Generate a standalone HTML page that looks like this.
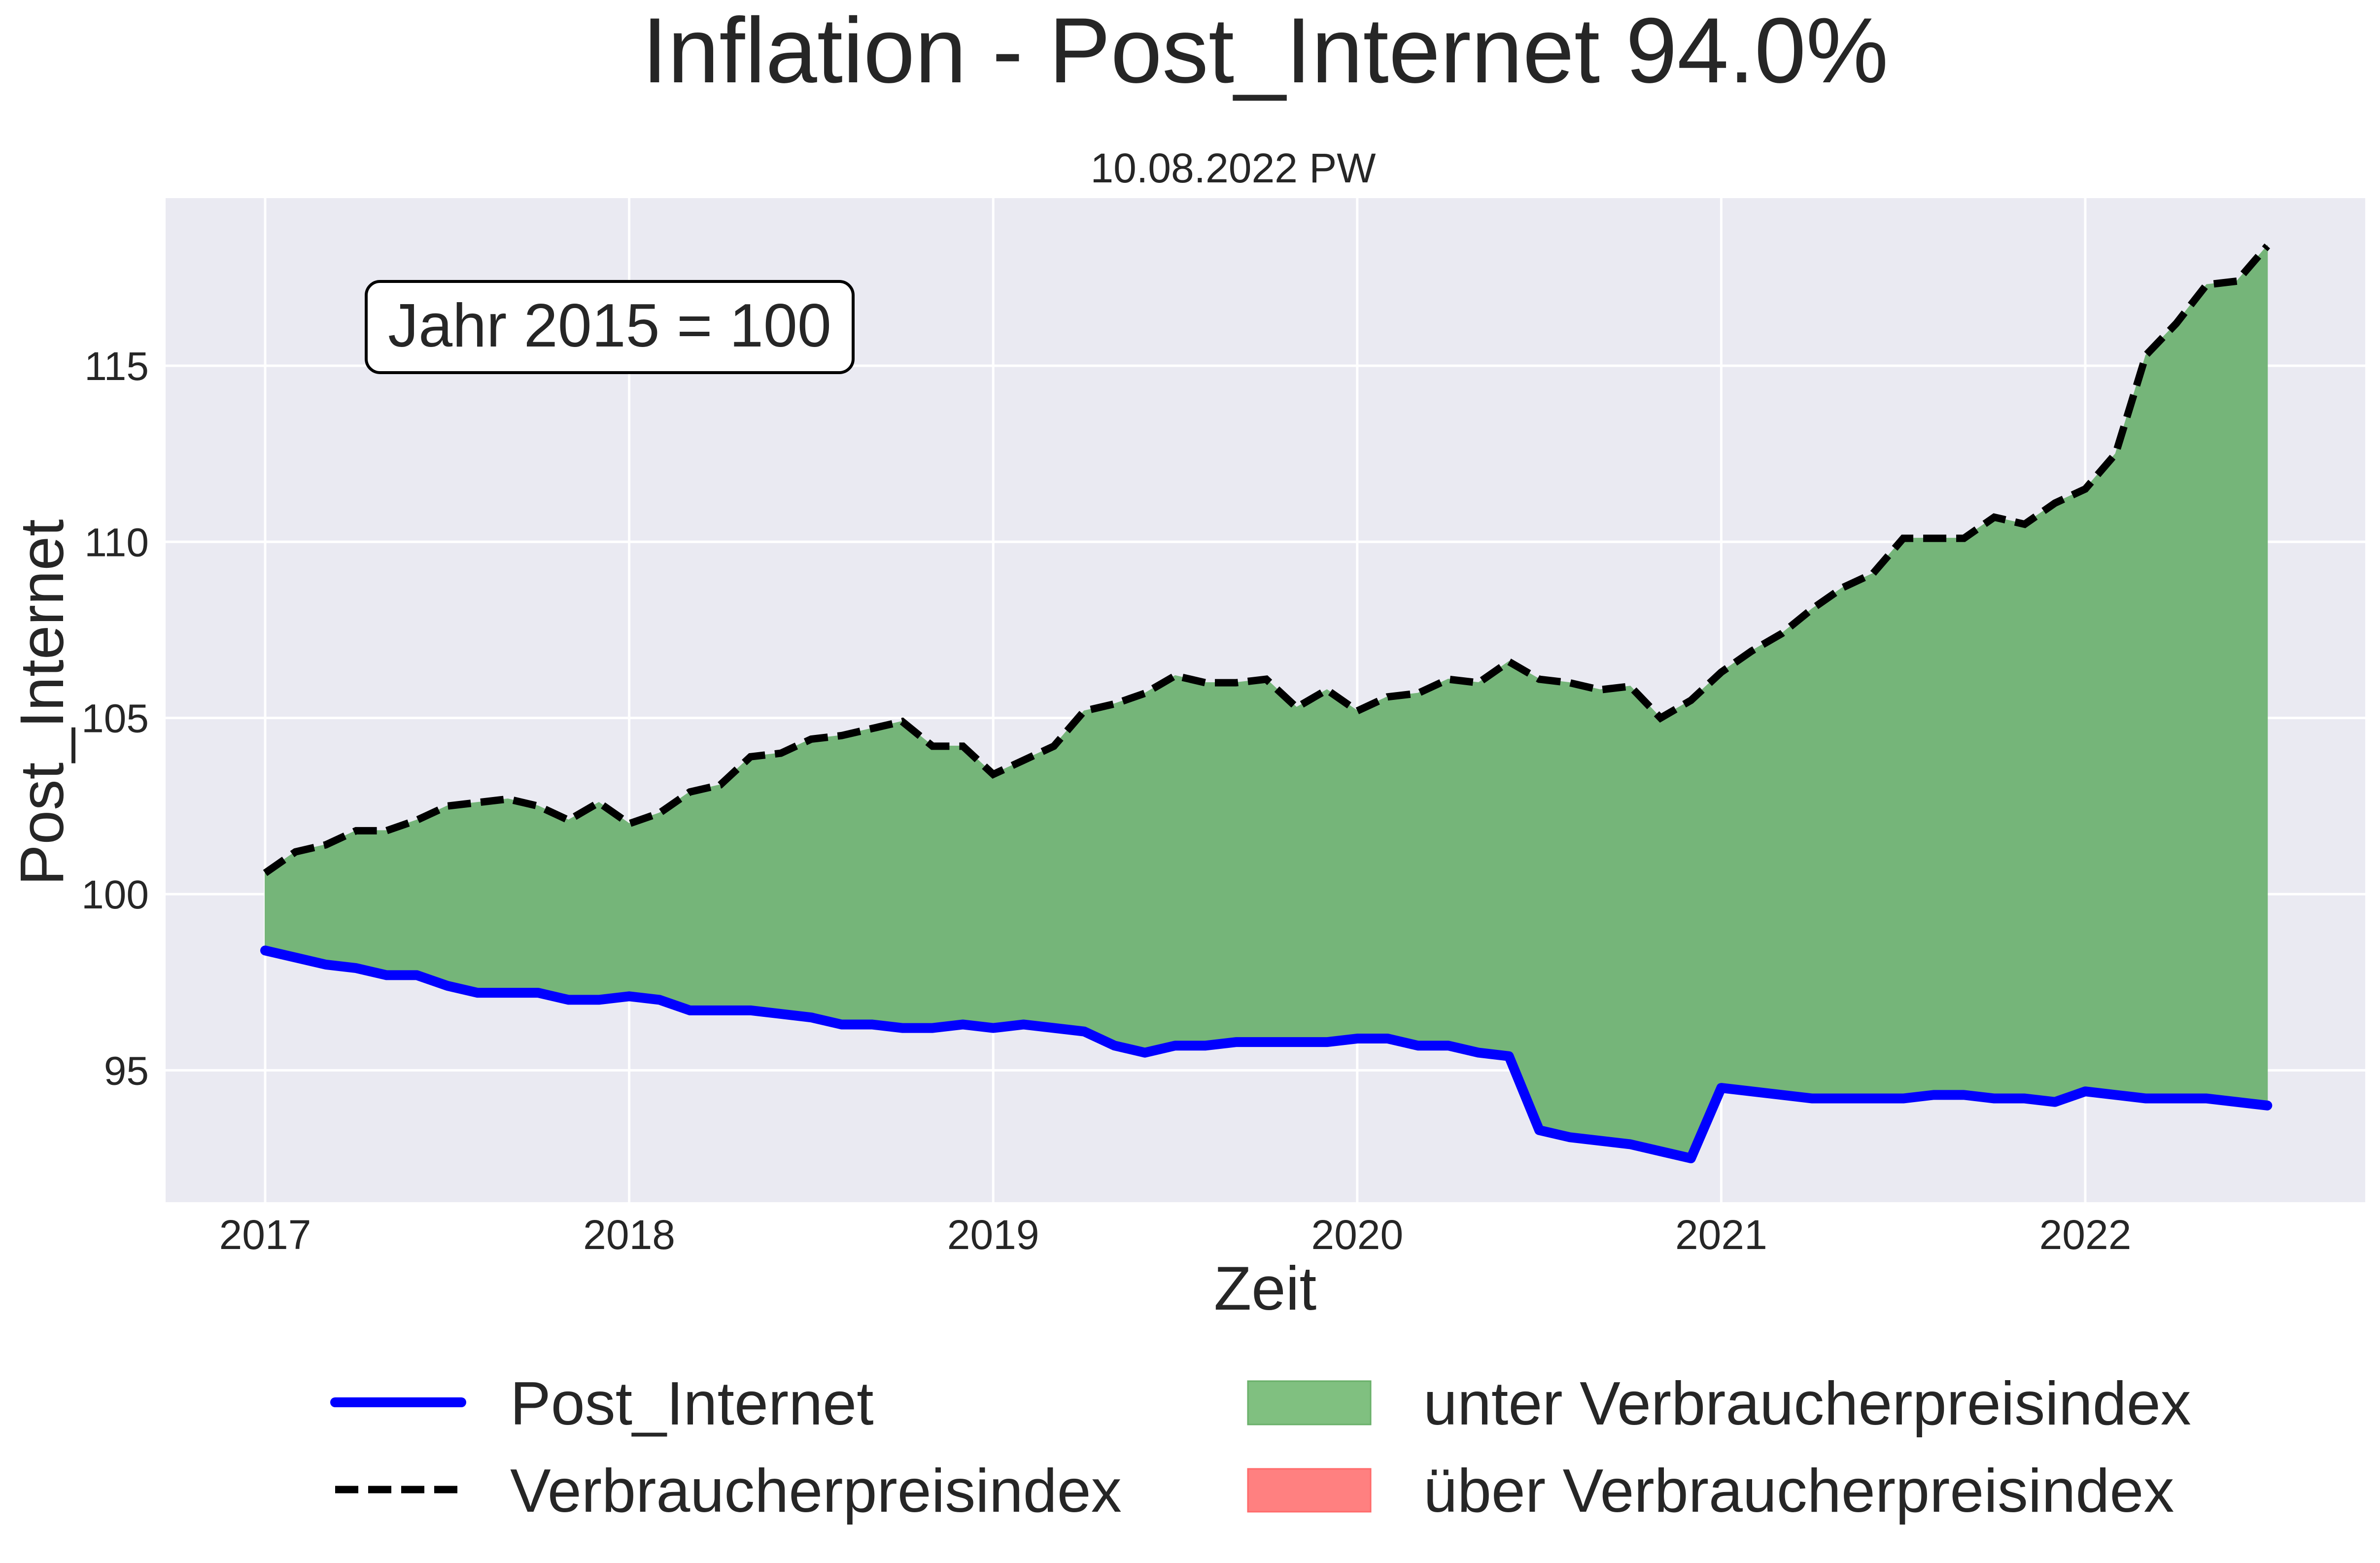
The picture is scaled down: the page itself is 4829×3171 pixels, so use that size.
<!DOCTYPE html>
<html><head><meta charset="utf-8"><style>
html,body{margin:0;padding:0;background:#fff;}
svg{display:block;font-family:"Liberation Sans",Arial,sans-serif;}
</style></head><body>
<svg id="chart" width="4829" height="3171" viewBox="0 0 4829 3171" xmlns="http://www.w3.org/2000/svg">
<text x="2567" y="167" font-size="188" fill="#262626" text-anchor="middle">Inflation - Post_Internet 94.0%</text>
<text x="2502" y="370" font-size="84" fill="#262626" text-anchor="middle">10.08.2022 PW</text>
<rect x="336" y="402" width="4463" height="2037" fill="#eaeaf2"/>
<g id="grid"></g>
<g id="fills"></g>
<g id="lines"></g>
<g id="ticks"></g>
<g>
<rect x="743" y="571" width="988" height="185" rx="28" fill="#fff" stroke="#000" stroke-width="6"/>
<text x="1237" y="703" font-size="124" fill="#262626" text-anchor="middle">Jahr 2015 = 100</text>
</g>
<text x="2567" y="2657" font-size="125" fill="#262626" text-anchor="middle">Zeit</text>
<text x="0" y="0" font-size="125" fill="#262626" text-anchor="middle" transform="translate(128,1425) rotate(-90)">Post_Internet</text>
<g>
<line x1="680" y1="2845" x2="936" y2="2845" stroke="#0000ff" stroke-width="20" stroke-linecap="round"/>
<text x="1035" y="2890" font-size="124" fill="#262626">Post_Internet</text>
<line x1="680" y1="3022" x2="936" y2="3022" stroke="#000" stroke-width="15" stroke-dasharray="47,20"/>
<text x="1035" y="3067" font-size="124" fill="#262626">Verbraucherpreisindex</text>
<rect x="2532" y="2802" width="249" height="88" fill="#80c080" stroke="#6ab06a" stroke-width="3"/>
<text x="2888" y="2890" font-size="124" fill="#262626">unter Verbraucherpreisindex</text>
<rect x="2532" y="2980" width="249" height="87" fill="#ff8080" stroke="#ff6a6a" stroke-width="3"/>
<text x="2888" y="3067" font-size="124" fill="#262626">über Verbraucherpreisindex</text>
</g>
</svg>
<script>
const startYear = 2017;
const cpiValues = [100.6,101.2,101.4,101.8,101.8,102.1,102.5,102.6,102.7,102.5,102.1,102.6,
102.0,102.3,102.9,103.1,103.9,104.0,104.4,104.5,104.7,104.9,104.2,104.2,
103.4,103.8,104.2,105.2,105.4,105.7,106.2,106.0,106.0,106.1,105.3,105.8,
105.2,105.6,105.7,106.1,106.0,106.6,106.1,106.0,105.8,105.9,105.0,105.5,
106.3,106.9,107.4,108.1,108.7,109.1,110.1,110.1,110.1,110.7,110.5,111.1,
111.5,112.5,115.3,116.2,117.3,117.4,118.4];
const postValues = [98.4,98.2,98.0,97.9,97.7,97.7,97.4,97.2,97.2,97.2,97.0,97.0,
97.1,97.0,96.7,96.7,96.7,96.6,96.5,96.3,96.3,96.2,96.2,96.3,
96.2,96.3,96.2,96.1,95.7,95.5,95.7,95.7,95.8,95.8,95.8,95.8,
95.9,95.9,95.7,95.7,95.5,95.4,93.3,93.1,93.0,92.9,92.7,92.5,
94.5,94.4,94.3,94.2,94.2,94.2,94.2,94.3,94.3,94.2,94.2,94.1,
94.4,94.3,94.2,94.2,94.2,94.1,94.0];
const xTickLabels = ["2017","2018","2019","2020","2021","2022"];
const yTickLabels = ["95","100","105","110","115"];

const NS = "http://www.w3.org/2000/svg";
const PL = 336, PR = 4799, PT = 402, PB = 2439;
function xs(v){ return 538 + (v - 2017) * 738.6; }
function ys(v){ return 1814 - (v - 100) * 71.47; }
function mk(tag, attrs, parent){
  const e = document.createElementNS(NS, tag);
  for (const k in attrs) e.setAttribute(k, attrs[k]);
  parent.appendChild(e);
  return e;
}
const grid = document.getElementById('grid');
const ticks = document.getElementById('ticks');
xTickLabels.forEach(l => {
  const x = xs(parseFloat(l));
  const g = mk('line', {x1:x, x2:x, y1:PT, y2:PB, stroke:'#fff', 'stroke-width':5}, grid);
  
  
  const t = mk('text', {x:x, y:2534, 'font-size':84, fill:'#262626', 'text-anchor':'middle'}, ticks);
  t.textContent = l;
  
  
});
yTickLabels.forEach(l => {
  const y = ys(parseFloat(l));
  const g = mk('line', {x1:PL, x2:PR, y1:y, y2:y, stroke:'#fff', 'stroke-width':5}, grid);
  
  
  const t = mk('text', {x:302, y:y + 29, 'font-size':82, fill:'#262626', 'text-anchor':'end'}, ticks);
  t.textContent = l;
  
  
});
const xsData = cpiValues.map((_, i) => xs(startYear + i / 12));
const topPts = cpiValues.map((v, i) => xsData[i] + ',' + ys(v));
const botPts = postValues.map((v, i) => xsData[i] + ',' + ys(v)).reverse();
const fillEl = mk('polygon', {points: topPts.concat(botPts).join(' '), fill:'#75b579', stroke:'#75b579', 'stroke-width':2}, document.getElementById('fills'));


const linesG = document.getElementById('lines');
const pl = mk('polyline', {points: postValues.map((v, i) => xsData[i] + ',' + ys(v)).join(' '), fill:'none', stroke:'#0000ff', 'stroke-width':20, 'stroke-linejoin':'round', 'stroke-linecap':'round'}, linesG);


const cl = mk('polyline', {points: topPts.join(' '), fill:'none', stroke:'#000', 'stroke-width':15, 'stroke-dasharray':'47,20'}, linesG);


</script>
</body></html>
